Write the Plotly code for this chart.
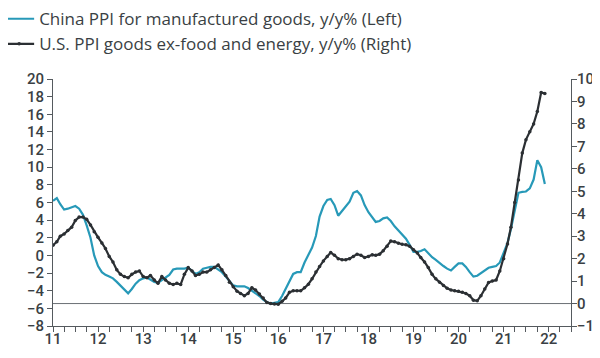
import pandas as pd
import plotly.graph_objects as go

months = pd.date_range("2011-01-01", periods=132, freq="MS")

china_ppi = [
    6.2, 6.5, 5.8, 5.2, 5.3, 5.5, 5.6, 5.3, 4.6, 3.4, 2.0, 0.0,
    -1.2, -1.9, -2.2, -2.4, -2.6, -3.0, -3.4, -3.9, -4.3, -3.8, -3.2, -2.8,
    -2.6, -2.5, -2.7, -3.0, -3.1, -2.8, -2.5, -2.2, -1.6, -1.5, -1.5, -1.5,
    -1.4, -1.8, -2.1, -1.9, -1.5, -1.4, -1.3, -1.3, -1.6, -1.9, -2.4, -2.9,
    -3.4, -3.5, -3.5, -3.5, -3.7, -4.0, -4.3, -4.6, -5.0, -5.3, -5.45, -5.4,
    -5.3, -4.6, -3.8, -3.0, -2.1, -1.9, -1.9, -0.8, 0.0, 0.9, 2.2, 4.4,
    5.6, 6.3, 6.4, 5.7, 4.5, 5.0, 5.5, 6.1, 7.1, 7.3, 6.8, 5.7,
    4.9, 4.3, 3.8, 3.9, 4.2, 4.3, 3.9, 3.3, 2.8, 2.4, 1.9, 1.2,
    0.4, 0.4, 0.5, 0.7, 0.2, -0.2, -0.5, -0.9, -1.2, -1.5, -1.7, -1.3,
    -0.9, -0.9, -1.3, -1.9, -2.4, -2.3, -2.0, -1.7, -1.4, -1.3, -1.2, -0.8,
    0.3, 1.4, 3.0, 5.3, 7.1, 7.2, 7.25, 7.6, 8.6, 10.8, 10.0, 8.1,
]

us_ppi = [
    2.6, 2.75, 3.0, 3.1, 3.25, 3.4, 3.7, 3.85, 3.85, 3.75, 3.5, 3.2,
    2.95, 2.7, 2.45, 2.1, 1.85, 1.5, 1.3, 1.2, 1.15, 1.3, 1.4, 1.45,
    1.2, 1.15, 1.25, 1.05, 0.9, 1.2, 1.05, 0.9, 0.85, 0.9, 0.85, 1.3,
    1.6, 1.45, 1.25, 1.3, 1.4, 1.4, 1.5, 1.6, 1.72, 1.5, 1.25, 0.95,
    0.75, 0.55, 0.45, 0.35, 0.45, 0.7, 0.6, 0.42, 0.25, 0.05, 0.0, -0.02,
    -0.03, 0.1, 0.25, 0.5, 0.57, 0.57, 0.57, 0.7, 0.86, 1.1, 1.4, 1.65,
    1.9, 2.1, 2.27, 2.15, 2.0, 1.95, 1.95, 2.0, 2.1, 2.2, 2.15, 2.05,
    2.1, 2.17, 2.15, 2.2, 2.35, 2.55, 2.78, 2.75, 2.68, 2.64, 2.62, 2.55,
    2.4, 2.25, 2.05, 1.85, 1.6, 1.3, 1.1, 0.95, 0.8, 0.68, 0.6, 0.57,
    0.55, 0.5, 0.45, 0.35, 0.15, 0.12, 0.35, 0.65, 0.94, 1.0, 1.05, 1.45,
    2.0, 2.65, 3.4, 4.5, 5.5, 6.7, 7.3, 7.65, 8.0, 8.55, 9.4, 9.35,
]

left_ticks = list(range(-8, 21, 2))
right_ticks = list(range(-1, 11, 1))

teal = "#2799b8"
dark = "#2b2f33"
axis_col = "#555a5e"
txt = "#3a3f44"
font_family = "'Open Sans', 'Liberation Sans', Arial, sans-serif"
tick_font = dict(family="Roboto, 'Open Sans', Arial, sans-serif", size=15,
                 color=txt, weight=500)

fig = go.Figure()
fig.add_trace(go.Scatter(
    x=months, y=china_ppi, mode="lines",
    name="China PPI for manufactured goods, y/y% (Left)",
    line=dict(color=teal, width=2.2),
))
fig.add_trace(go.Scatter(
    x=months, y=us_ppi, mode="lines+markers", yaxis="y2",
    name="U.S. PPI goods ex-food and energy, y/y% (Right)",
    line=dict(color=dark, width=2.2),
    marker=dict(size=3.5, color=dark),
))

fig.add_shape(type="line", xref="paper", x0=0, x1=1, yref="y2", y0=0, y1=0,
              line=dict(color="#6b7075", width=1), layer="below")

fig.update_layout(
    width=600, height=358,
    margin=dict(l=45, r=37, t=71, b=40, autoexpand=False),
    paper_bgcolor="white", plot_bgcolor="white",
    font=dict(family=font_family, size=16, color=txt),
    showlegend=True,
    legend=dict(
        x=-0.104, y=1.315,
        xanchor="left", yanchor="top",
        font=dict(size=17, color=txt),
        bgcolor="rgba(0,0,0,0)", tracegroupgap=0,
    ),
    xaxis=dict(
        type="date", range=["2011-01-01", "2022-07-01"],
        tickformat="%y", dtick="M12", tick0="2011-01-01",
        ticks="outside", ticklen=5, tickcolor=axis_col,
        showline=True, linecolor=axis_col, linewidth=1,
        showgrid=False, zeroline=False, tickangle=0,
        ticklabelstandoff=-6,
        tickfont=tick_font,
        minor=dict(dtick="M3", tick0="2011-01-01", ticks="outside",
                   ticklen=5, tickcolor=axis_col, showgrid=False),
    ),
    yaxis=dict(
        range=[-8, 20], tickvals=left_ticks,
        ticks="outside", ticklen=5, tickcolor=axis_col,
        showline=True, linecolor=axis_col, linewidth=1,
        showgrid=False, zeroline=False,
        tickfont=tick_font,
    ),
    yaxis2=dict(
        range=[-1, 10], tickvals=right_ticks, overlaying="y", side="right",
        ticks="outside", ticklen=5, tickcolor=axis_col,
        showline=True, linecolor=axis_col, linewidth=1,
        showgrid=False, zeroline=False, ticklabelstandoff=-3,
        tickfont=tick_font,
    ),
)

fig.write_html("out.html")
